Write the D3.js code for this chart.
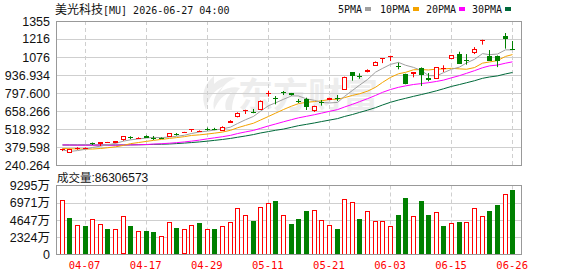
<!DOCTYPE html>
<html><head><meta charset="utf-8">
<script src="https://cdn.jsdelivr.net/npm/d3@7/dist/d3.min.js"></script>
<style>html,body{margin:0;padding:0;background:#fff;}svg{display:block;}</style>
</head><body><svg id="c" width="578" height="276"></svg>
<script>
const dates = ["04-01","04-02","04-06","04-07","04-08","04-09","04-10","04-13","04-14","04-15","04-16","04-17","04-20","04-21","04-22","04-23","04-24","04-27","04-28","04-29","04-30","05-01","05-04","05-05","05-06","05-07","05-08","05-11","05-12","05-13","05-14","05-15","05-18","05-19","05-20","05-21","05-22","05-26","05-27","05-28","05-29","06-01","06-02","06-03","06-04","06-05","06-08","06-09","06-10","06-11","06-12","06-15","06-16","06-17","06-18","06-22","06-23","06-24","06-25","06-26"];
const open  = [355,343,370,371,408,403,415,411,436,458,450,467,452,451,459,480,492,506,504,522,522,516,569,620,663,652,676,793,759,806,795,737,751,666,727,744,758,826,958,930,962,1019,1062,1082,1008,945,940,991,910,910,985,1064,1099,1056,1113,1206,1086,1086,1241,1140];
const high  = [366,366,378,376,414,418,419,426,464,463,455,470,465,454,487,488,497,519,508,530,528,540,587,648,668,674,740,815,774,813,798,751,761,699,743,761,782,924,960,950,981,1042,1066,1086,1032,947,960,996,952,998,1012,1091,1117,1099,1153,1210,1130,1088,1262,1200];
const low   = [348,336,358,368,395,387,413,409,428,440,444,450,434,445,457,468,489,496,502,506,510,514,566,609,635,641,674,770,710,782,778,720,666,651,700,742,736,824,893,908,957,1017,1029,1045,981,865,919,852,888,908,960,1062,1022,1017,1099,1172,1046,998,1141,1134];
const close = [364,364,373,373,406,416,417,424,462,455,453,452,450,448,485,477,494,516,506,520,520,537,584,645,667,649,738,797,756,804,780,735,687,697,725,759,756,919,929,928,978,1040,1065,1085,1006,867,957,939,894,996,988,1089,1024,1054,1137,1209,1048,1048,1216,1137];
const volume = [73680000,49840000,40410000,39060000,48050000,41760000,35020000,35020000,51190000,39060000,32330000,32330000,30980000,25590000,44010000,36370000,33680000,40410000,43100000,35020000,35020000,39060000,44010000,63310000,53880000,45800000,64660000,70040000,72740000,53880000,40850000,47150000,59270000,60170000,46700000,40410000,35020000,74990000,70950000,48490000,58820000,45350000,45350000,39060000,53880000,76780000,52530000,72740000,53880000,57470000,39060000,42660000,44010000,44010000,62860000,52530000,59270000,67350000,81720000,86306573];
const volUp = [1,0,1,0,1,1,0,1,1,0,1,0,0,1,1,0,1,1,0,1,0,1,1,1,1,0,1,1,0,1,0,0,0,1,1,1,0,1,1,0,1,1,1,1,0,0,1,0,0,1,0,1,0,1,1,1,0,0,1,0];
const ma5  = [358,345,352,362,376,386.4,397,407.2,425,434.8,442.2,449.2,454.4,451.6,457.6,462.4,470.8,484,495.6,502.6,511.2,519.8,533.4,561.2,590.6,616.4,656.6,699.2,721.4,748.8,775,774.4,752.4,740.6,724.8,720.6,724.8,771.2,817.6,858.2,902,958.8,988,1019.2,1034.8,1012.6,996,970.8,932.6,930.6,954.8,981.2,998.2,1030.2,1058.4,1102.6,1094.4,1099.2,1131.6,1131.6];
const ma10 = [368,366,365,364,364,368,374,381,392,405.4,414.3,423.1,430.8,438.3,446.2,452.3,460,469.2,473.6,480.1,486.8,495.3,508.7,528.4,546.6,563.8,588.2,616.3,641.3,669.7,695.7,715.5,725.8,731,736.8,747.8,749.6,761.8,779.1,791.5,811.3,841.8,879.6,918.4,946.5,957.3,977.4,979.4,975.9,982.7,983.7,988.6,984.5,981.4,994.5,1028.7,1037.8,1048.7,1080.9,1095];
const ma20 = [396,395,394,394,394,394,394,394,395,396,397,399,402,405,409,413,419,425,433,442.8,450.6,459.2,469.8,483.4,496.4,508.1,524.1,542.8,557.5,574.9,591.3,605.4,617.3,629.7,641.7,655.8,668.9,689.1,710.2,730.6,753.5,778.7,802.7,824.7,841.7,852.6,863.5,870.6,877.5,887.1,897.5,915.2,932.1,949.9,970.5,993,1007.6,1014.1,1028.4,1038.9];
const ma30 = [395,395,395,395,395,395,395,395,395,396,397,398,400,401,403,406,410,414,419,425,431,438,446,455,465,476,488,499,509,518.4,532.3,544.6,555.1,565.9,576.5,588,599.3,615.8,631.3,647.1,664.6,684.2,704.7,725.9,743.3,756.3,771.7,785.8,798.8,814.6,830.2,848.6,863.3,876.9,892.6,911.3,921.6,930,945.3,956.4];
const priceTicks = [240.264,379.598,518.932,658.266,797.600,936.934,1076,1216,1355];
const priceTickLabels = ["240.264","379.598","518.932","658.266","797.600","936.934","1076","1216","1355"];
const volTicks = [0,23240000,46470000,69710000,92950000];
const volTickLabels = ["0","2324万","4647万","6971万","9295万"];
const xLabelDates = ["04-07","04-17","04-29","05-11","05-21","06-03","06-15","06-26"];
const maNames = ["5PMA","10PMA","20PMA","30PMA"];
const titleName = "美光科技";
const titleRest = "[MU] 2026-06-27 04:00";
const volTitle = "成交量";
const volTitleValue = ":86306573";

const RED = "#ff0000", GREEN = "#008000";
const maColors = ["#a0a0a0","#f4a300","#ff00ff","#00693a"];
const L = 56, R = 522, T1 = 21, B1 = 165, T2 = 185.5, B2 = 254.5;

const svg = d3.select("#c");
const x = d3.scaleBand().domain(dates).range([56.5, 517.3]).padding(0.35);
const cx = d => Math.round(x(d) + x.bandwidth()/2) + 0.5;
const y = d3.scaleLinear().domain([240.264, 1355]).range([B1, T1]);
const yv = d3.scaleLinear().domain([0, 92950000]).range([B2, T2]);

// watermark
const wm = svg.append("g").attr("fill","#ededed");
wm.append("path").attr("d","M214,76 C204,84 200,96 206,110 C208,98 214,90 224,86 C216,92 212,100 214,110 C218,100 224,94 232,92 C226,98 224,104 226,110 L232,110 C232,100 236,92 240,88 C234,86 226,88 220,92 C224,84 230,80 236,78 C228,76 220,78 214,84 C214,80 214,78 214,76 Z");
wm.append("text").attr("x",238).attr("y",108).attr("font-size",35).attr("font-weight","bold")
  .attr("font-family","'Noto Sans CJK SC'").text("东方财富");

// grid main
svg.append("g").selectAll("line").data(priceTicks).join("line")
  .attr("x1",L).attr("x2",R).attr("y1",d=>Math.round(y(d))+0.5).attr("y2",d=>Math.round(y(d))+0.5)
  .attr("stroke","#cfcfcf");
svg.append("g").selectAll("line").data(xLabelDates).join("line")
  .attr("x1",cx).attr("x2",cx).attr("y1",T1).attr("y2",B1)
  .attr("stroke","#cfcfcf").attr("stroke-dasharray","4,3");
// grid volume
svg.append("g").selectAll("line").data(volTicks.slice(1,4)).join("line")
  .attr("x1",L).attr("x2",R).attr("y1",d=>Math.round(yv(d))+0.5).attr("y2",d=>Math.round(yv(d))+0.5)
  .attr("stroke","#cfcfcf");
svg.append("g").selectAll("line").data(xLabelDates).join("line")
  .attr("x1",cx).attr("x2",cx).attr("y1",T2).attr("y2",B2)
  .attr("stroke","#cfcfcf").attr("stroke-dasharray","4,3");

// MA lines (30 first, 5 last on top)
const maSeries = [ma5, ma10, ma20, ma30];
[3,2,1,0].forEach(idx => {
  svg.append("path").datum(maSeries[idx])
    .attr("fill","none").attr("stroke",maColors[idx]).attr("stroke-width",1)
    .attr("d", d3.line().x((v,i)=>cx(dates[i])).y(v=>y(v)));
});

// candles
const cg = svg.append("g");
dates.forEach((d,i) => {
  const o = open[i], c = close[i], up = c > o;
  const col = up ? RED : GREEN;
  const X = cx(d);
  const yt = y(Math.max(o,c)), yb = y(Math.min(o,c));
  cg.append("line").attr("x1",X).attr("x2",X).attr("y1",y(high[i])).attr("y2",y(low[i])).attr("stroke",col);
  const h = yb - yt;
  if (up && h >= 2.5) {
    cg.append("rect").attr("x",X-2).attr("y",Math.round(yt)+0.5).attr("width",4).attr("height",Math.max(1,Math.round(h)))
      .attr("fill","#fff").attr("stroke",col);
  } else {
    cg.append("rect").attr("x",X-2.5).attr("y",Math.round(yt)).attr("width",5).attr("height",Math.max(1,Math.round(h)))
      .attr("fill",col);
  }
});

// volume bars
const vg = svg.append("g");
dates.forEach((d,i) => {
  const X = cx(d), top = yv(volume[i]);
  if (volUp[i]) {
    vg.append("rect").attr("x",X-2).attr("y",Math.round(top)+0.5).attr("width",4).attr("height",Math.round(B2-top)-1)
      .attr("fill","#fff").attr("stroke",RED);
  } else {
    vg.append("rect").attr("x",X-2.5).attr("y",Math.round(top)).attr("width",5).attr("height",B2-Math.round(top))
      .attr("fill",GREEN);
  }
});

// frames
svg.append("rect").attr("x",L+0.5).attr("y",T1+0.5).attr("width",R-L-1).attr("height",B1-T1)
  .attr("fill","none").attr("stroke","#999");
svg.append("rect").attr("x",L+0.5).attr("y",T2).attr("width",R-L-1).attr("height",B2-T2)
  .attr("fill","none").attr("stroke","#999");

// axes
const ya = svg.append("g").attr("transform",`translate(${L-2},0)`)
  .call(d3.axisLeft(y).tickValues(priceTicks).tickSize(0).tickFormat((d,i)=>priceTickLabels[i]));
ya.select(".domain").remove();
ya.selectAll("text").attr("font-family","'Liberation Sans',Arial,sans-serif").attr("font-size",12.5).attr("fill","#111").attr("dx",-1);
const va = svg.append("g").attr("transform",`translate(${L-2},0)`)
  .call(d3.axisLeft(yv).tickValues(volTicks).tickSize(0).tickFormat((d,i)=>volTickLabels[i]));
va.select(".domain").remove();
va.selectAll("text").attr("font-family","'Liberation Sans','Noto Sans CJK SC',sans-serif").attr("font-size",12.5).attr("fill","#111").attr("dx",-1);
const xa = svg.append("g").attr("transform",`translate(0,${B2})`)
  .call(d3.axisBottom(x).tickValues(xLabelDates).tickSize(0));
xa.select(".domain").remove();
xa.selectAll("text").attr("font-family","'DejaVu Sans Mono',monospace").attr("font-size",10.5).attr("fill",RED).attr("dy","1.05em");

// title
const t = svg.append("text").attr("x",55).attr("y",14).attr("fill","#111");
t.append("tspan").attr("font-family","'Noto Sans CJK SC'").attr("font-size",12).text(titleName);
t.append("tspan").attr("font-family","'DejaVu Sans Mono',monospace").attr("font-size",10).text(titleRest);

// legend
const legX = [338,380,426,472], sqX = [365,413,459,505];
maNames.forEach((n,i) => {
  svg.append("text").attr("x",legX[i]).attr("y",13).attr("font-family","'DejaVu Sans Mono',monospace")
    .attr("font-size",10).attr("fill","#111").attr("textLength", n.length*6).text(n);
  svg.append("rect").attr("x",sqX[i]).attr("y",7).attr("width",6).attr("height",4).attr("fill",maColors[i]);
});

// volume title
const vt = svg.append("text").attr("x",57).attr("y",182).attr("fill","#111");
vt.append("tspan").attr("font-family","'Noto Sans CJK SC'").attr("font-size",11.5).text(volTitle);
vt.append("tspan").attr("font-family","'Liberation Sans',Arial,sans-serif").attr("font-size",12).text(volTitleValue);
</script></body></html>
